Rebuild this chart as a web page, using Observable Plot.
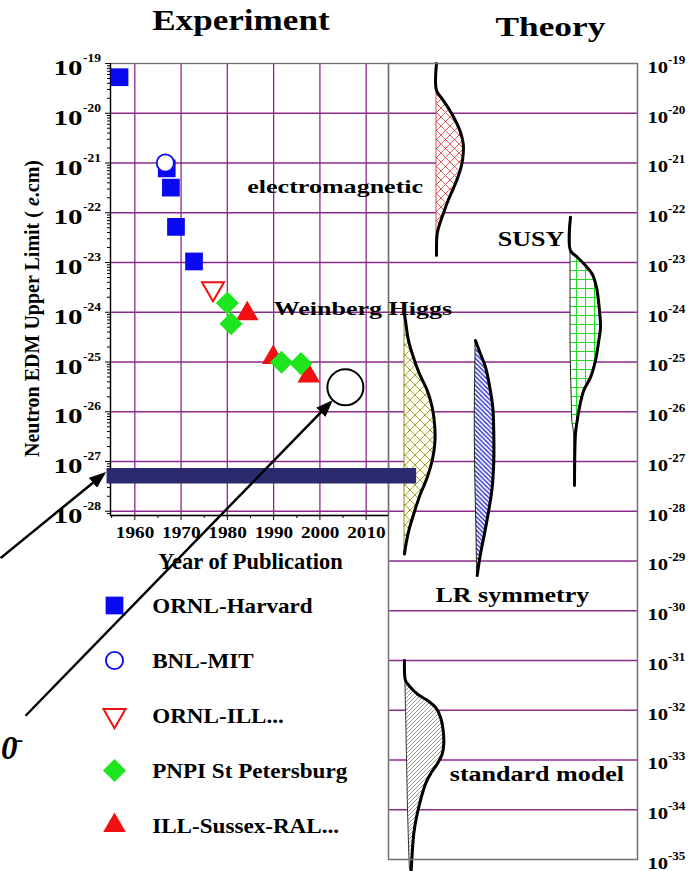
<!DOCTYPE html>
<html>
<head>
<meta charset="utf-8">
<script src="https://cdn.jsdelivr.net/npm/d3@7"></script>
<script src="https://cdn.jsdelivr.net/npm/@observablehq/plot@0.6"></script>
<style>
  body { margin: 0; background: #fff; }
  #wrap { position: relative; width: 692px; height: 871px; overflow: hidden; background: #fff; }
  #wrap svg { position: absolute; left: 0; top: 0; }
</style>
</head>
<body>
<div id="wrap"></div>
<script>
// ---------------- data ----------------
const seriesNames = ["ORNL-Harvard", "BNL-MIT", "ORNL-ILL...", "PNPI St Petersburg", "ILL-Sussex-RAL..."];

const ornlHarvard = [
  {year: 1956.7, edm: 5.3e-20},
  {year: 1966.9, edm: 7.8e-22},
  {year: 1967.8, edm: 3.2e-22},
  {year: 1968.9, edm: 5.2e-23},
  {year: 1972.8, edm: 1.05e-23}
];
const bnlMit = [{year: 1966.6, edm: 1.0e-21}];
const ornlIll = [{year: 1976.9, edm: 3.0e-24}];
const pnpi = [
  {year: 1980.0, edm: 1.53e-24},
  {year: 1980.8, edm: 5.9e-25},
  {year: 1991.7, edm: 9.9e-26},
  {year: 1995.9, edm: 9.3e-26}
];
const illSussex = [
  {year: 1984.3, edm: 9.3e-25},
  {year: 1989.9, edm: 1.23e-25},
  {year: 1997.6, edm: 5.25e-26}
];
const futureGoal = [{year: 2005.5, edm: 3.1e-26}];
const sensitivityBar = [{from: 1954.0, to: 2020.9, edm: 5.2e-28}];

const yearTicks = [1960, 1970, 1980, 1990, 2000, 2010];
const yearMinorTicks = [1955, 1965, 1975, 1985, 1995, 2005];
const expExponents = [-19, -20, -21, -22, -23, -24, -25, -26, -27, -28];
const theoryExponents = [-19, -20, -21, -22, -23, -24, -25, -26, -27, -28, -29, -30, -31, -32, -33, -34, -35];

// theory predictions: e = log10(EDM), lo/hi = left/right edge of the distribution
const emShape = [
  {e: -19.00, lo: 48, hi: 48}, {e: -19.54, lo: 48, hi: 48}, {e: -19.71, lo: 48, hi: 53.7},
  {e: -19.91, lo: 48, hi: 60.3}, {e: -20.15, lo: 48, hi: 67}, {e: -20.38, lo: 48, hi: 72},
  {e: -20.61, lo: 48, hi: 74.7}, {e: -20.82, lo: 48, hi: 74.7}, {e: -21.05, lo: 48, hi: 73},
  {e: -21.29, lo: 48, hi: 69.3}, {e: -21.52, lo: 48, hi: 64.7}, {e: -21.75, lo: 48, hi: 59.7},
  {e: -21.99, lo: 48, hi: 55.3}, {e: -22.22, lo: 48, hi: 51.3}, {e: -22.42, lo: 48, hi: 48.7},
  {e: -22.86, lo: 48, hi: 48}
];
const susyShape = [
  {e: -22.09, lo: 182, hi: 182}, {e: -22.76, lo: 182, hi: 182}, {e: -22.89, lo: 182, hi: 188.7},
  {e: -23.06, lo: 182, hi: 197}, {e: -23.23, lo: 182, hi: 203.7}, {e: -23.50, lo: 182, hi: 208},
  {e: -23.83, lo: 182, hi: 210.3}, {e: -24.30, lo: 182, hi: 212}, {e: -24.57, lo: 182, hi: 210.3},
  {e: -24.97, lo: 182.3, hi: 207}, {e: -25.31, lo: 182.6, hi: 202}, {e: -25.57, lo: 183, hi: 195.3},
  {e: -25.91, lo: 183.4, hi: 191}, {e: -26.18, lo: 183.8, hi: 188.7}, {e: -26.44, lo: 185.5, hi: 187},
  {e: -27.48, lo: 186, hi: 186}
];
const higgsShape = [
  {e: -24.03, lo: 16, hi: 16}, {e: -24.17, lo: 16, hi: 17}, {e: -24.57, lo: 16, hi: 20},
  {e: -24.97, lo: 16, hi: 26}, {e: -25.24, lo: 16, hi: 31}, {e: -25.57, lo: 16, hi: 38.7},
  {e: -25.91, lo: 16, hi: 43.7}, {e: -26.31, lo: 16, hi: 46.3}, {e: -26.64, lo: 16, hi: 46.3},
  {e: -26.98, lo: 16, hi: 43.7}, {e: -27.32, lo: 16, hi: 38.7}, {e: -27.65, lo: 16, hi: 32},
  {e: -28.05, lo: 16, hi: 25.3}, {e: -28.39, lo: 16, hi: 20.3}, {e: -28.72, lo: 16, hi: 17},
  {e: -28.86, lo: 16, hi: 16}
];
const lrShape = [
  {e: -24.57, lo: 87, hi: 87}, {e: -24.84, lo: 87, hi: 92}, {e: -25.10, lo: 86.8, hi: 97},
  {e: -25.51, lo: 86.5, hi: 101.3}, {e: -25.91, lo: 86.3, hi: 104.3}, {e: -26.44, lo: 86.3, hi: 105.3},
  {e: -26.98, lo: 86.5, hi: 105.3}, {e: -27.52, lo: 87, hi: 103.7}, {e: -27.98, lo: 87.5, hi: 100.3},
  {e: -28.45, lo: 88, hi: 96}, {e: -28.86, lo: 88.3, hi: 92}, {e: -29.29, lo: 88.7, hi: 88.7}
];
const smShape = [
  {e: -31.00, lo: 16, hi: 16}, {e: -31.40, lo: 17, hi: 17}, {e: -31.50, lo: 17, hi: 20.3},
  {e: -31.67, lo: 17.2, hi: 28.7}, {e: -31.80, lo: 17.3, hi: 38.7}, {e: -31.94, lo: 17.5, hi: 47},
  {e: -32.14, lo: 17.7, hi: 52}, {e: -32.41, lo: 18, hi: 54.7}, {e: -32.67, lo: 18.2, hi: 55.3},
  {e: -32.88, lo: 18.4, hi: 53.7}, {e: -33.08, lo: 18.6, hi: 48.7}, {e: -33.28, lo: 18.8, hi: 42},
  {e: -33.48, lo: 19, hi: 37}, {e: -33.81, lo: 19.3, hi: 32}, {e: -34.15, lo: 19.7, hi: 28},
  {e: -34.48, lo: 20.2, hi: 25.3}, {e: -34.88, lo: 20.8, hi: 23.7}, {e: -35.22, lo: 21.5, hi: 22.7}
];

const expLabels = [
  {text: "electromagnetic", year: 1984.3, edm: 2.47e-22},
  {text: "Weinberg Higgs", year: 1990.0, edm: 9.0e-25}
];
const theoryLabels = [
  {text: "SUSY", w: 109.3, edm: 2.1e-23},
  {text: "LR symmetry", w: 47, edm: 1.49e-30},
  {text: "standard model", w: 61.3, edm: 3.87e-34}
];
const pointerArrows = [
  {x1: 1931.0, e1: -28.94, x2: 1953.3, e2: -27.25},
  {x1: 1936.4, e1: -32.11, x2: 2002.3, e2: -25.81}
];
const cutText = [{text: "0", sup: "-", year: 1931.0, e: -32.97}];

// ---------------- style ----------------
const SERIF = "'Liberation Serif','Times New Roman',Times,serif";
const PURPLE = "#8c2a8c";
const BLUE = "#0a0af2", RED = "#f01010", GREEN = "#1ee61e";
const triangleDown = {
  draw(context, size) {
    const y = Math.sqrt(size / (Math.sqrt(3) * 3));
    context.moveTo(0, y * 2);
    context.lineTo(-Math.sqrt(3) * y, -y);
    context.lineTo(Math.sqrt(3) * y, -y);
    context.closePath();
  }
};
const seriesStyle = [
  {symbol: "square", r: 10, fill: BLUE, stroke: "none", strokeWidth: 0},
  {symbol: "circle", r: 8.6, fill: "white", stroke: BLUE, strokeWidth: 1.8},
  {symbol: triangleDown, r: 8.2, fill: "white", stroke: RED, strokeWidth: 2},
  {symbol: "diamond2", r: 10.4, fill: GREEN, stroke: "none", strokeWidth: 0},
  {symbol: "triangle", r: 8.4, fill: RED, stroke: "none", strokeWidth: 0}
];
const seriesData = [ornlHarvard, bnlMit, ornlIll, pnpi, illSussex];
const drawOrder = [0, 1, 2, 4, 3];
const stretchFactors = {ytick10: 1.45, rtick10: 1.29, xtick: 1.1, expTitle: 1.17, theoryTitle: 1.26, expLabel: 1.37, theoryLabel: 1.3, legend: 1.1};

const X0 = 1954.75, X1 = 2014.82;
const Y_TOP = 1e-19, Y_BOTTOM = 10 ** -28.085;
const minorY = [];
for (let n = -29; n <= -20; n++) for (let k = 2; k <= 9; k++) { const v = k * 10 ** n; if (v > Y_BOTTOM && v < Y_TOP) minorY.push(v); }
const bold = {fontWeight: "bold", fontFamily: SERIF};

// ---------------- theory panel ----------------
function shapeMarks(data, pattern, edge) {
  return [
    Plot.areaX(data, {y: d => 10 ** d.e, x1: "lo", x2: "hi", curve: "catmull-rom", fill: `url(#${pattern})`, stroke: edge, strokeWidth: 1}),
    Plot.line(data, {x: "hi", y: d => 10 ** d.e, curve: "catmull-rom", stroke: "black", strokeWidth: 3, strokeLinecap: "round"})
  ];
}
const theory = Plot.plot({
  width: 692, height: 871,
  marginLeft: 388, marginRight: 55, marginTop: 63, marginBottom: 12,
  x: {domain: [0, 249], axis: null},
  y: {type: "log", domain: [1e-35, 1e-19], axis: null},
  style: {background: "transparent", overflow: "visible"},
  marks: [
    Plot.ruleY(theoryExponents.slice(1, -1), {y: e => 10 ** e, stroke: PURPLE, strokeWidth: 1.3}),
    ...shapeMarks(emShape, "hatch-em", "#d84040"),
    ...shapeMarks(susyShape, "hatch-susy", "#222"),
    ...shapeMarks(higgsShape, "hatch-higgs", "#8a8a20"),
    ...shapeMarks(lrShape, "hatch-lr", "#222"),
    ...shapeMarks(smShape, "hatch-sm", "#333"),
    Plot.frame({stroke: "#707070", strokeWidth: 1.5}),
    Plot.text(theoryExponents, {y: e => 10 ** e, text: () => "10", frameAnchor: "right", textAnchor: "start", lineAnchor: "bottom", dx: 10, dy: 9.3, fontSize: 16, ...bold, ariaDescription: "rtick10"}),
    Plot.text(theoryExponents, {y: e => 10 ** e, text: e => String(e), frameAnchor: "right", textAnchor: "start", lineAnchor: "bottom", dx: 30.5, dy: 0.3, fontSize: 13, ...bold}),
    Plot.text(theoryLabels, {x: "w", y: "edm", text: "text", textAnchor: "start", lineAnchor: "bottom", fontSize: 20, ...bold, ariaDescription: "theoryLabel"}),
    Plot.text(["Theory"], {x: () => 107, text: d => d, frameAnchor: "top", textAnchor: "start", lineAnchor: "bottom", dy: -28, fontSize: 28, ...bold, ariaDescription: "theoryTitle"})
  ]
});

// ---------------- legend ----------------
const legend = Plot.plot({
  width: 400, height: 300,
  marginTop: 44, marginBottom: 34, marginLeft: 114, marginRight: 10,
  x: {domain: [0, 1], axis: null},
  y: {type: "point", domain: seriesNames, padding: 0, axis: null},
  style: {background: "transparent", overflow: "visible"},
  marks: [
    ...seriesNames.map((s, i) => Plot.dot([s], {x: () => 0, y: d => d, ...seriesStyle[i]})),
    Plot.text(seriesNames, {x: () => 0, y: d => d, dx: 37.7, dy: 7.5, textAnchor: "start", lineAnchor: "bottom", fontSize: 21, ...bold, ariaDescription: "legend"})
  ]
});

// ---------------- experiment panel ----------------
const experiment = Plot.plot({
  width: 692, height: 871,
  marginLeft: 110, marginRight: 304, marginTop: 63, marginBottom: 356,
  x: {domain: [X0, X1]},
  y: {type: "log", domain: [Y_BOTTOM, Y_TOP]},
  style: {background: "transparent", overflow: "visible"},
  marks: [
    Plot.ruleX(yearTicks, {stroke: PURPLE, strokeWidth: 1.3}),
    Plot.ruleY(expExponents.slice(1), {y: e => 10 ** e, stroke: PURPLE, strokeWidth: 1.3}),
    Plot.frame({stroke: "#707070", strokeWidth: 1.3}),
    Plot.ruleX([X0], {stroke: "black", strokeWidth: 1.3}),
    Plot.ruleY([Y_BOTTOM], {stroke: "black", strokeWidth: 1.3}),
    Plot.axisX({ticks: yearTicks, tickSize: 5, fill: "none", stroke: "black"}),
    Plot.axisX({ticks: yearMinorTicks, tickSize: 3, fill: "none", stroke: "black"}),
    Plot.axisY({ticks: expExponents.map(e => 10 ** e), anchor: "left", tickSize: 5, fill: "none", stroke: "black"}),
    Plot.axisY({ticks: minorY, anchor: "left", tickSize: 3, fill: "none", stroke: "black"}),
    Plot.text(expExponents, {y: e => 10 ** e, text: () => "10", frameAnchor: "left", textAnchor: "start", lineAnchor: "bottom", dx: -57, dy: 11.5, fontSize: 20, ...bold, ariaDescription: "ytick10"}),
    Plot.text(expExponents, {y: e => 10 ** e, text: e => String(e), frameAnchor: "left", textAnchor: "start", lineAnchor: "bottom", dx: -27.5, dy: -1.3, fontSize: 13.5, ...bold}),
    Plot.text(yearTicks, {x: d => d, text: d => String(d), frameAnchor: "bottom", textAnchor: "start", lineAnchor: "bottom", dx: -19, dy: 22.5, fontSize: 17.5, ...bold, ariaDescription: "xtick"}),
    Plot.text(["Year of Publication"], {x: () => 1985.0, text: d => d, frameAnchor: "bottom", textAnchor: "middle", lineAnchor: "bottom", dy: 53, fontSize: 22.5, ...bold}),
    Plot.text(["Neutron EDM Upper Limit ( e.cm)"], {text: d => d, frameAnchor: "left", rotate: -90, textAnchor: "middle", lineAnchor: "middle", dx: -78.3, dy: 19, fontSize: 20, ...bold, ariaDescription: "ytitle"}),
    Plot.text(["Experiment"], {x: () => 1963.76, text: d => d, frameAnchor: "top", textAnchor: "start", lineAnchor: "bottom", dy: -33.7, fontSize: 30, ...bold, ariaDescription: "expTitle"}),
    Plot.ruleY(sensitivityBar, {y: "edm", x1: "from", x2: "to", stroke: "#2b2a6e", strokeWidth: 15.5}),
    ...drawOrder.map(i => Plot.dot(seriesData[i], {x: "year", y: "edm", ...seriesStyle[i]})),
    Plot.dot(futureGoal, {x: "year", y: "edm", r: 18, fill: "white", stroke: "black", strokeWidth: 2}),
    Plot.text(expLabels, {x: "year", y: "edm", text: "text", textAnchor: "start", lineAnchor: "bottom", fontSize: 19, ...bold, ariaDescription: "expLabel"}),
    Plot.link(pointerArrows, {x1: "x1", y1: d => 10 ** d.e1, x2: "x2", y2: d => 10 ** d.e2, stroke: "black", strokeWidth: 2.5, ariaDescription: "arrows"}),
    Plot.text(cutText, {x: "year", y: d => 10 ** d.e, text: "text", textAnchor: "start", lineAnchor: "bottom", dx: 0.5, fontSize: 33, fontStyle: "italic", ...bold}),
    Plot.text(cutText, {x: "year", y: d => 10 ** d.e, text: "sup", textAnchor: "start", lineAnchor: "bottom", dx: 15.5, dy: -13, fontSize: 22, fontStyle: "italic", ...bold})
  ]
});

const wrap = document.getElementById("wrap");
wrap.appendChild(theory);
wrap.appendChild(legend);
legend.style.top = "560px";
wrap.appendChild(experiment);

// hatch patterns for the theory distributions
const defs = d3.select(theory).insert("defs", ":first-child");
function pattern(id, size, bg, color, d, width) {
  const p = defs.append("pattern").attr("id", id).attr("patternUnits", "userSpaceOnUse")
    .attr("width", size).attr("height", size);
  p.append("rect").attr("width", size).attr("height", size).attr("fill", bg);
  p.append("path").attr("d", d).attr("stroke", color).attr("stroke-width", width).attr("fill", "none");
}
pattern("hatch-em", 9, "white", "#e04848", "M0,0L9,9M9,0L0,9M-1,1L1,-1M8,10L10,8M-1,8L1,10M8,-1L10,1", 0.9);
pattern("hatch-susy", 9, "white", "#22dd22", "M0,0.5H9M0.5,0V9", 1.1);
pattern("hatch-higgs", 10, "#fffff4", "#9a9a28", "M0,0L10,10M10,0L0,10M-1,1L1,-1M9,11L11,9M-1,9L1,11M9,-1L11,1", 0.9);
pattern("hatch-lr", 4.5, "white", "#2020c8", "M0,0L4.5,4.5M-1,3.5L1,5.5M3.5,-1L5.5,1", 1.3);
pattern("hatch-sm", 4, "white", "#555", "M0,4L4,0M-1,1L1,-1M3,5L5,3", 0.6);

// arrowheads
const edefs = d3.select(experiment).insert("defs", ":first-child");
edefs.append("marker").attr("id", "arrowhead").attr("viewBox", "0 0 17 13").attr("refX", 14).attr("refY", 6.5)
  .attr("markerWidth", 17).attr("markerHeight", 13).attr("markerUnits", "userSpaceOnUse").attr("orient", "auto")
  .append("path").attr("d", "M0,0L17,6.5L0,13Z").attr("fill", "black");
d3.select(experiment).selectAll('g[aria-description="arrows"] path').attr("marker-end", "url(#arrowhead)");

// italic "e" in the y title
d3.select(experiment).selectAll('g[aria-description="ytitle"] text').each(function () {
  const t = d3.select(this);
  t.text(null);
  t.append("tspan").text("Neutron EDM Upper Limit ( ");
  t.append("tspan").attr("font-style", "italic").text("e");
  t.append("tspan").text(".cm)");
});

// horizontally stretched slide lettering
for (const svg of [theory, legend, experiment]) {
  for (const [key, f] of Object.entries(stretchFactors)) {
    d3.select(svg).selectAll(`g[aria-description="${key}"] text`).each(function () {
      const w = this.getComputedTextLength();
      this.setAttribute("textLength", (w * f).toFixed(1));
      this.setAttribute("lengthAdjust", "spacingAndGlyphs");
    });
  }
}
</script>
</body>
</html>
